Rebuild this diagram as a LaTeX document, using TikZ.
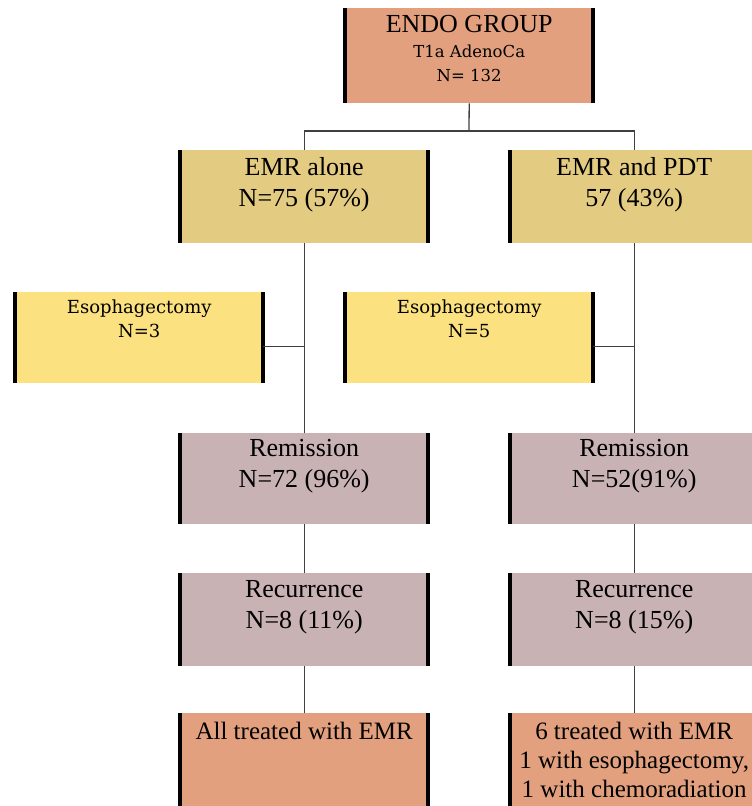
\documentclass[tikz,border=0pt]{standalone}
\usepackage{fontspec}
\setmainfont{Liberation Serif}
\newfontfamily\smallfont{DejaVu Serif}
\definecolor{peach}{HTML}{E2A07E}
\definecolor{emrtan}{HTML}{E3CC82}
\definecolor{esoyellow}{HTML}{FBE17F}
\definecolor{mauve}{HTML}{C9B2B4}

\begin{document}
\begin{tikzpicture}[x=1pt, y=-1pt,
  box/.style={rectangle, inner sep=0pt, anchor=north west, minimum width=248pt, minimum height=93pt},
  bar/.style={line width=4pt, black},
  link/.style={line width=1.3pt, black!75},
  big/.style={anchor=north, align=center, inner sep=0pt, font=\fontsize{26}{31}\selectfont},
  small/.style={anchor=north, align=center, inner sep=0pt, font=\smallfont\fontsize{18}{24}\selectfont}]

\path[use as bounding box, clip] (0,0) rectangle (752,806);

% Top box
\node[box, fill=peach, minimum height=95pt] (endo) at (345,8) {};
\node[big] (endo-t) at ([yshift=-7pt]endo.north) {ENDO GROUP\\[-6pt]{\smallfont\fontsize{16.5}{24}\selectfont T1a AdenoCa}\\[-7pt]{\smallfont\fontsize{16.5}{24}\selectfont N= 132}};

% Treatment arms
\node[box, fill=emrtan] (emra) at (180,150) {};
\node[big] (emra-t) at ([yshift=-7pt]emra.north) {EMR alone\\N=75 (57\%)};
\node[box, fill=emrtan] (emrp) at (510,150) {};
\node[big] (emrp-t) at ([yshift=-7pt]emrp.north) {EMR and PDT\\57 (43\%)};

% Esophagectomy side boxes
\node[box, fill=esoyellow, minimum height=91pt] (esoa) at (15,292) {};
\node[small] (esoa-t) at ([yshift=-7.5pt]esoa.north) {Esophagectomy\\N=3};
\node[box, fill=esoyellow, minimum height=91pt] (esop) at (345,292) {};
\node[small] (esop-t) at ([yshift=-7.5pt]esop.north) {Esophagectomy\\N=5};

% Remission
\node[box, fill=mauve, minimum height=91pt] (rema) at (180,433) {};
\node[big] (rema-t) at ([yshift=-6.5pt]rema.north) {Remission\\N=72 (96\%)};
\node[box, fill=mauve, minimum height=91pt] (remp) at (510,433) {};
\node[big] (remp-t) at ([yshift=-6.5pt]remp.north) {Remission\\N=52(91\%)};

% Recurrence
\node[box, fill=mauve] (reca) at (180,573) {};
\node[big] (reca-t) at ([yshift=-7.5pt]reca.north) {Recurrence\\N=8 (11\%)};
\node[box, fill=mauve] (recp) at (510,573) {};
\node[big] (recp-t) at ([yshift=-7.5pt]recp.north) {Recurrence\\N=8 (15\%)};

% Treatment of recurrence
\node[box, fill=peach] (outa) at (180,713) {};
\node[big, font=\fontsize{25}{29}\selectfont] (outa-t) at ([yshift=-9pt]outa.north) {All treated with EMR};
\node[box, fill=peach] (outp) at (510,713) {};
\node[big, font=\fontsize{25}{29}\selectfont] (outp-t) at ([yshift=-9pt]outp.north) {6 treated with EMR\\1 with esophagectomy,\\1 with chemoradiation};

% thick side bars
\foreach \n in {endo,emra,emrp,esoa,esop,rema,remp,reca,recp,outa,outp}
  \draw[bar] (\n.north west) -- (\n.south west) (\n.north east) -- (\n.south east);

% Connectors
\coordinate (split) at (469,131);
\draw[link] (endo.south) -- (split);
\draw[link] (emra.north) |- (split) -| (emrp.north);
\draw[link] (emra.south) -- (rema.north);
\draw[link] (emrp.south) -- (remp.north);
\draw[link] ([yshift=-9pt]esoa.east) -- ([yshift=-9pt]esoa.east -| emra.south);
\draw[link] ([yshift=-9pt]esop.east) -- ([yshift=-9pt]esop.east -| emrp.south);
\draw[link] (rema.south) -- (reca.north);
\draw[link] (remp.south) -- (recp.north);
\draw[link] (reca.south) -- (outa.north);
\draw[link] (recp.south) -- (outp.north);

\end{tikzpicture}
\end{document}
